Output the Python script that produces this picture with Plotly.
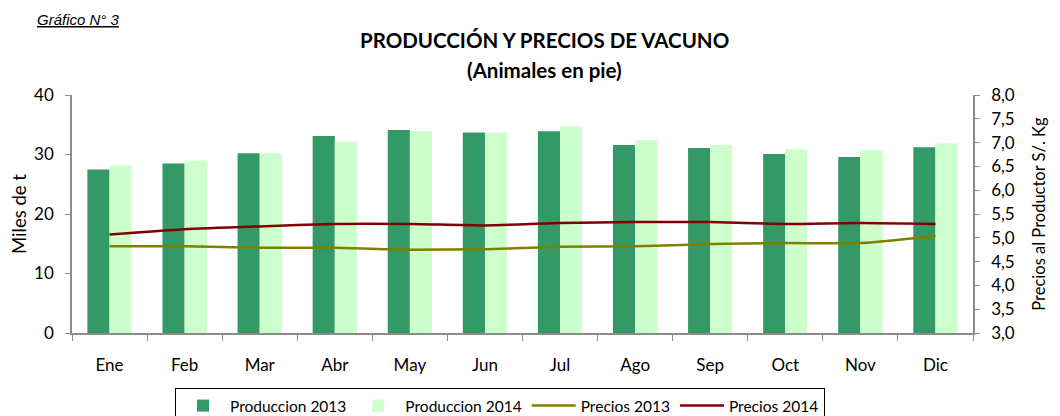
import plotly.graph_objects as go

meses = ["Ene", "Feb", "Mar", "Abr", "May", "Jun", "Jul", "Ago", "Sep", "Oct", "Nov", "Dic"]
produccion_2013 = [27.5, 28.5, 30.2, 33.1, 34.1, 33.7, 33.9, 31.6, 31.1, 30.1, 29.6, 31.2]
produccion_2014 = [28.2, 29.0, 30.2, 32.2, 33.9, 33.7, 34.7, 32.4, 31.6, 30.9, 30.7, 31.9]
precios_2013 = [4.82, 4.82, 4.79, 4.79, 4.75, 4.76, 4.81, 4.82, 4.87, 4.89, 4.89, 5.04]
precios_2014 = [5.07, 5.18, 5.24, 5.29, 5.29, 5.26, 5.31, 5.33, 5.33, 5.29, 5.31, 5.29]

FONT = "Lato"
OFF = 8  # page body margin offset
W, H = 1060 - OFF, 416 - OFF
ML, MR, MT, MB = 72 - OFF, 87, 95 - OFF, 83
pw, ph = W - ML - MR, H - MT - MB

fig = go.Figure()
fig.add_trace(go.Bar(x=meses, y=produccion_2013, name="Produccion 2013",
                     marker=dict(color="#339966", line=dict(width=0))))
fig.add_trace(go.Bar(x=meses, y=produccion_2014, name="Produccion 2014",
                     marker=dict(color="#CCFFCC", line=dict(width=0))))
fig.add_trace(go.Scatter(x=meses, y=precios_2013, name="Precios 2013", yaxis="y2",
                         mode="lines", line=dict(color="#808000", width=2.5, shape="spline", smoothing=0.6)))
fig.add_trace(go.Scatter(x=meses, y=precios_2014, name="Precios 2014", yaxis="y2",
                         mode="lines", line=dict(color="#800000", width=2.5, shape="spline", smoothing=0.6)))

axis_col = "#8c8c8c"
TICK = 17


def px_to_paper(px, py):
    # px, py are screen coordinates
    return (px - OFF - ML) / pw, (H - MB - (py - OFF)) / ph


tx, ty = px_to_paper(544, 40)
sx, sy = px_to_paper(544, 70)
gx, gy = px_to_paper(35, 19)

fig.update_layout(
    width=W, height=H,
    margin=dict(l=ML, r=MR, t=MT, b=MB, autoexpand=False),
    paper_bgcolor="white", plot_bgcolor="white",
    separators=",.",
    barmode="group", bargap=0.41, bargroupgap=0,
    font=dict(family=FONT, size=15, color="black"),
    showlegend=True,
    legend=dict(orientation="h", x=(500 - OFF) / W, xref="container", xanchor="center",
                y=(H - (388 - OFF)) / H, yref="container", yanchor="top",
                bordercolor="black", borderwidth=1, font=dict(size=15.5, family=FONT),
                traceorder="normal", itemwidth=44, tracegroupgap=0),
    xaxis=dict(type="category", showline=True, linecolor=axis_col, linewidth=1.5,
               ticks="outside", tickson="boundaries", ticklen=6, tickcolor=axis_col,
               showgrid=False, tickfont=dict(size=TICK), range=[-0.5, 11.5],
               ticklabelstandoff=16, automargin=False),
    xaxis2=dict(overlaying="x", anchor="y", side="bottom", range=[-0.5, 11.5],
                tickvals=[i + 0.5 for i in range(11)], ticks="inside", ticklen=6,
                tickcolor=axis_col, showticklabels=False, showline=False, showgrid=False,
                zeroline=False),
    yaxis=dict(range=[0, 40], dtick=10, showline=True, linecolor=axis_col, linewidth=1.5,
               ticks="outside", ticklen=5, tickcolor=axis_col, showgrid=False, zeroline=False,
               title=dict(text="Miles de t", font=dict(size=18.5), standoff=5),
               tickfont=dict(size=TICK), ticklabelstandoff=8, automargin=False),
    yaxis3=dict(overlaying="y", anchor="x", side="left", range=[0, 40], dtick=10,
                ticks="inside", ticklen=5, tickcolor=axis_col, showticklabels=False,
                showline=False, showgrid=False, zeroline=False),
    yaxis2=dict(range=[3, 8], dtick=0.5, tickformat=".1f", overlaying="y", side="right",
                showline=True, linecolor=axis_col, linewidth=1.5, ticks="outside", ticklen=5,
                tickcolor=axis_col, showgrid=False, zeroline=False,
                title=dict(text="Precios al Productor S/. Kg", font=dict(size=16.5), standoff=20),
                tickfont=dict(size=TICK), ticklabelstandoff=8, automargin=False),
    yaxis4=dict(overlaying="y", anchor="x", side="right", range=[3, 8], dtick=0.5,
                ticks="inside", ticklen=5, tickcolor=axis_col, showticklabels=False,
                showline=False, showgrid=False, zeroline=False),
    annotations=[
        dict(text="<b>PRODUCCIÓN Y PRECIOS DE VACUNO</b>", x=tx, y=ty, xref="paper", yref="paper",
             xanchor="center", yanchor="middle", showarrow=False, font=dict(size=20.5, family=FONT)),
        dict(text="<b>(Animales en pie)</b>", x=sx, y=sy, xref="paper", yref="paper",
             xanchor="center", yanchor="middle", showarrow=False, font=dict(size=20.5, family=FONT)),
        dict(text="<i><u>Gráfico N° 3</u></i>", x=gx, y=gy, xref="paper", yref="paper",
             xanchor="left", yanchor="middle", showarrow=False,
             font=dict(size=15, family="Liberation Sans")),
    ],
)
fig.write_html("out.html")
